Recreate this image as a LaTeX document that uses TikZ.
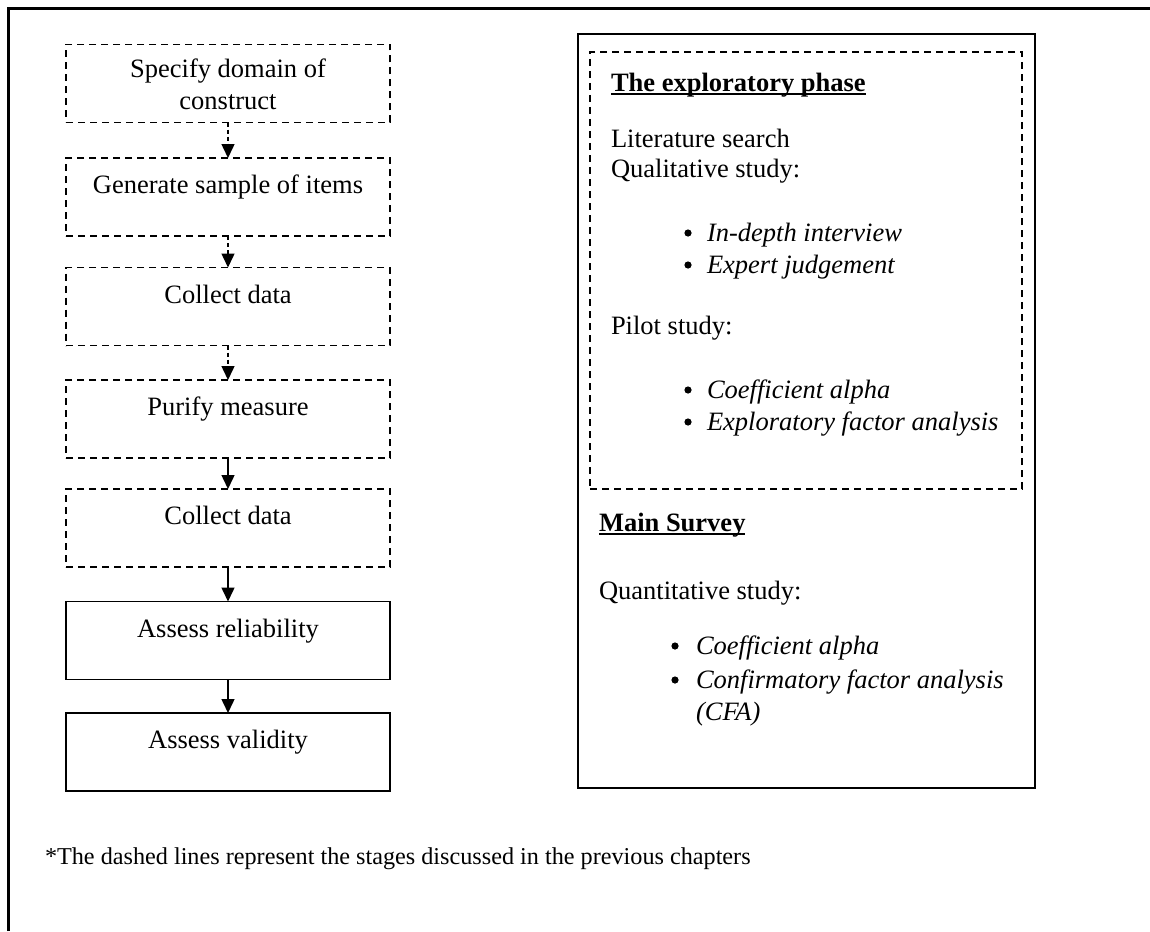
\documentclass[tikz,border=0pt]{standalone}
\usepackage{fontspec}
\setmainfont{Liberation Serif}
\usetikzlibrary{arrows.meta}
\begin{document}
\begin{tikzpicture}[x=0.5pt,y=-0.5pt,
  every node/.style={font=\fontsize{13.25}{16}\selectfont, inner sep=0pt, outer sep=0pt},
  stagebox/.style={draw, line width=0.75pt, minimum width=162pt, minimum height=39pt},
  oldstage/.style={stagebox, dash pattern=on 3.5pt off 2.5pt},
  link/.style={line width=0.75pt, -{Triangle[width=6.5pt,length=7pt]}},
  oldlink/.style={link, dash pattern=on 2pt off 1.5pt},
  txt/.style={anchor=base},
  lft/.style={anchor=base west},
  dot/.style={circle, fill, minimum size=3.6pt}]
  % page size and frame
  \useasboundingbox (0,0) rectangle (1150,931);
  \draw[line width=1.3pt] (8.5,931) -- (8.5,8.5) -- (1150,8.5);

  % scale development stages
  \node[oldstage] (b1) at (228,83.5) {};
  \node[oldstage] (b2) at (228,197) {};
  \node[oldstage] (b3) at (228,306.5) {};
  \node[oldstage] (b4) at (228,419) {};
  \node[oldstage] (b5) at (228,528) {};
  \node[stagebox] (b6) at (228,640.5) {};
  \node[stagebox] (b7) at (228,752) {};

  \node[txt] (t1a) at (228,78) {Specify domain of};
  \node[txt] (t1b) at (228,110) {construct};
  \node[txt] (t2) at (228,193) {Generate sample of items};
  \node[txt] (t3) at (228,303) {Collect data};
  \node[txt] (t4) at (228,415) {Purify measure};
  \node[txt] (t5) at (228,524) {Collect data};
  \node[txt] (t6) at (228,637) {Assess reliability};
  \node[txt] (t7) at (228,748) {Assess validity};

  \draw[oldlink] (b1.south) -- (b2.north);
  \draw[oldlink] (b2.south) -- (b3.north);
  \draw[oldlink] (b3.south) -- (b4.north);
  \draw[link] (b4.south) -- (b5.north);
  \draw[link] (b5.south) -- (b6.north);
  \draw[link] (b6.south) -- (b7.north);

  % research phases
  \node[draw, line width=1.1pt, minimum width=228.5pt, minimum height=377pt] (phases) at (806.5,411) {};
  \node[draw, line width=0.75pt, dash pattern=on 3.5pt off 2.5pt, minimum width=216pt, minimum height=218.5pt] (explore) at (806,270.5) {};

  \node[lft] (h1) at (611,91) {\textbf{The exploratory phase}};
  \draw[line width=1pt] ([yshift=-1.4pt]h1.base west) -- ([yshift=-1.4pt]h1.base east);
  \node[lft] (l1) at (611,148) {Literature search};
  \node[lft] (l2) at (611,177) {Qualitative study:};
  \node[dot] (d1) at (688,233) {};
  \node[lft] (i1) at (707,241) {\textit{In-depth interview}};
  \node[dot] (d2) at (688,265) {};
  \node[lft] (i2) at (707,273) {\textit{Expert judgement}};
  \node[lft] (l3) at (611,334) {Pilot study:};
  \node[dot] (d3) at (688,390) {};
  \node[lft] (i3) at (707,398) {\textit{Coefficient alpha}};
  \node[dot] (d4) at (688,422) {};
  \node[lft] (i4) at (707,430) {\textit{Exploratory factor analysis}};

  \node[lft] (h2) at (599,531) {\textbf{Main Survey}};
  \draw[line width=1pt] ([yshift=-1.4pt]h2.base west) -- ([yshift=-1.4pt]h2.base east);
  \node[lft] (l4) at (599,599) {Quantitative study:};
  \node[dot] (d5) at (675,646) {};
  \node[lft] (i5) at (696,654) {\textit{Coefficient alpha}};
  \node[dot] (d6) at (675,680) {};
  \node[lft] (i6) at (696,688) {\textit{Confirmatory factor analysis}};
  \node[lft] (i7) at (696,720) {\textit{(CFA)}};

  % footnote
  \node[lft, font=\fontsize{12.1}{14.5}\selectfont] (note) at (45,864) {*The dashed lines represent the stages discussed in the previous chapters};
\end{tikzpicture}
\end{document}
